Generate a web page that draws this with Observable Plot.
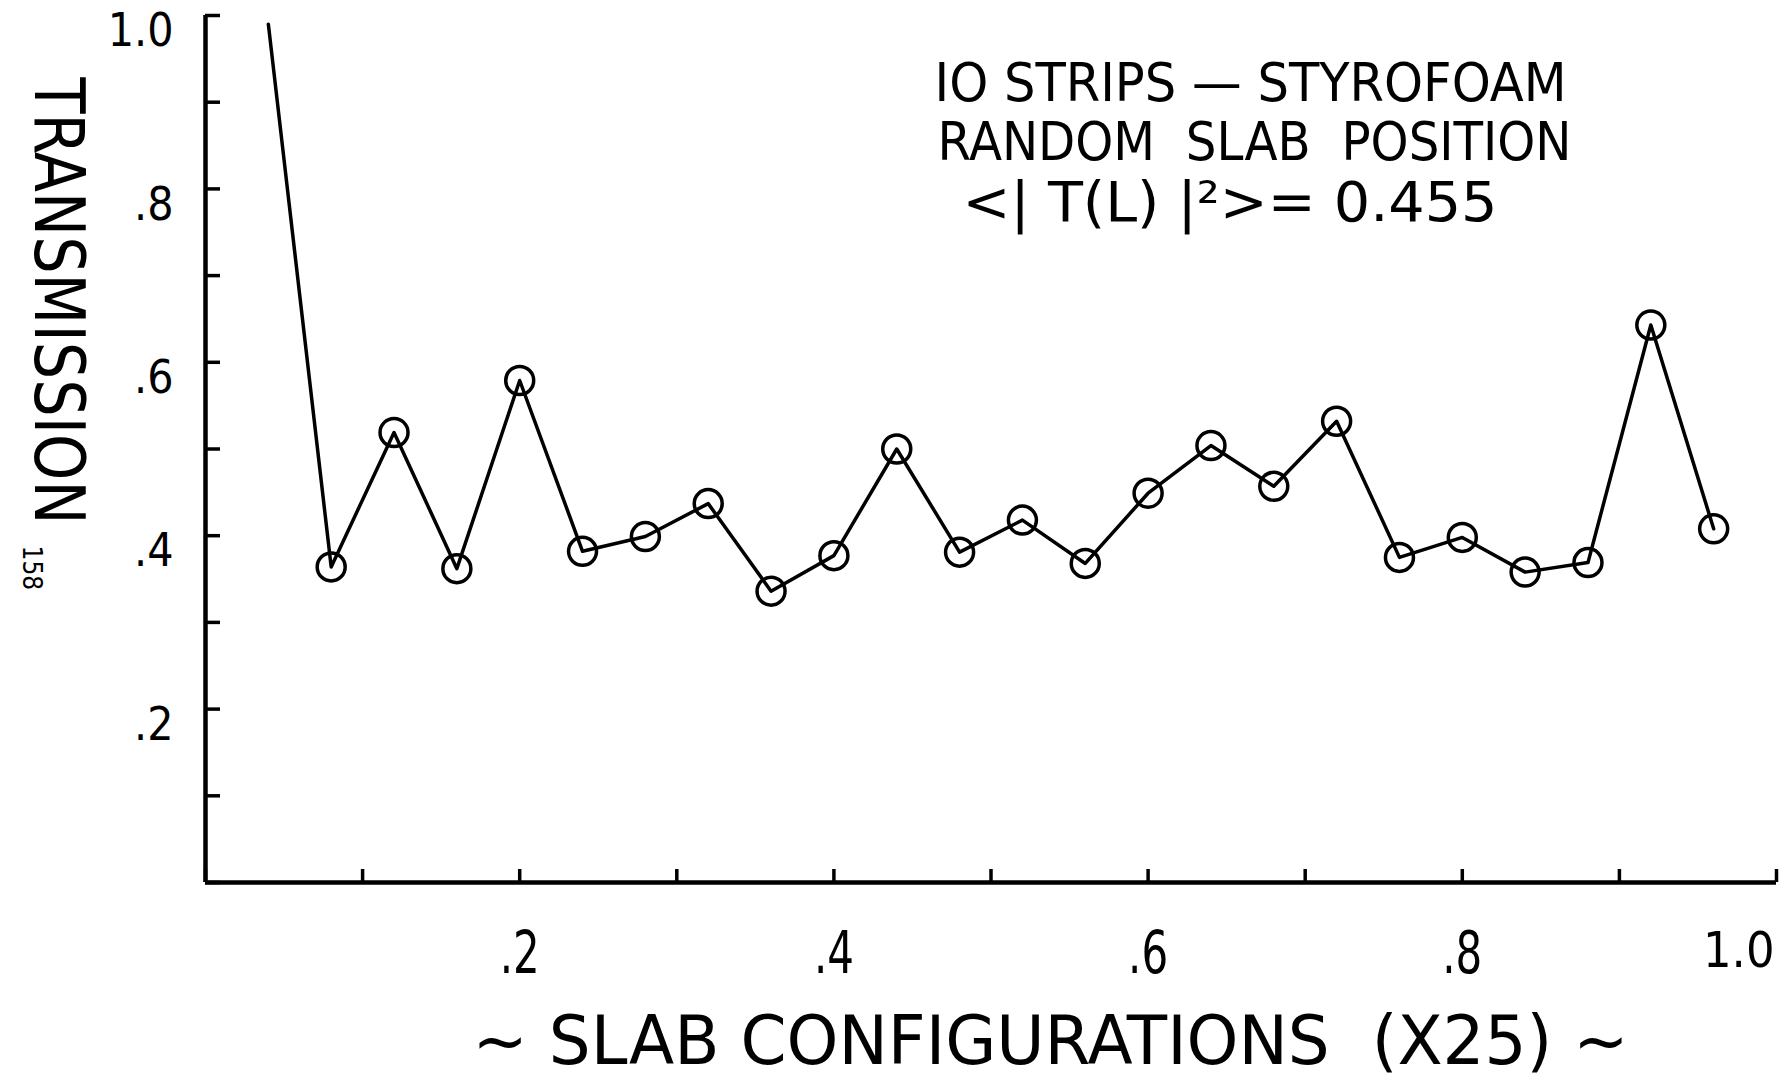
<!DOCTYPE html>
<html>
<head>
<meta charset="utf-8">
<script src="https://cdn.jsdelivr.net/npm/d3@7"></script>
<script src="https://cdn.jsdelivr.net/npm/@observablehq/plot@0.6"></script>
<style>
  html, body { margin: 0; padding: 0; background: #fff; overflow: hidden; }
</style>
</head>
<body>
<div id="chart"></div>
<script>
// ---- data ----
const configX = [0.04, 0.08, 0.12, 0.16, 0.20, 0.24, 0.28, 0.32, 0.36, 0.40, 0.44, 0.48,
                 0.52, 0.56, 0.60, 0.64, 0.68, 0.72, 0.76, 0.80, 0.84, 0.88, 0.92, 0.96];
const transmission = [0.990, 0.364, 0.519, 0.362, 0.579, 0.382, 0.399, 0.437, 0.336, 0.377, 0.500, 0.381,
                      0.418, 0.368, 0.449, 0.504, 0.457, 0.532, 0.375, 0.398, 0.358, 0.369, 0.643, 0.408];
const circled = [false, true, true, true, true, true, true, true, true, true, true, true,
                 true, true, true, true, true, true, true, true, true, true, true, true];

const xTickValues = [0, 0.1, 0.2, 0.3, 0.4, 0.5, 0.6, 0.7, 0.8, 0.9, 1.0];
const yTickValues = [0, 0.1, 0.2, 0.3, 0.4, 0.5, 0.6, 0.7, 0.8, 0.9, 1.0];
const xLabelValues = [0.2, 0.4, 0.6, 0.8, 1.0];
const xTickLabels = [".2", ".4", ".6", ".8", "1.0"];
const yLabelValues = [0.2, 0.4, 0.6, 0.8, 1.0];
const yTickLabels = [".2", ".4", ".6", ".8", "1.0"];

const annotationLines = ["IO STRIPS \u2014 STYROFOAM", "RANDOM  SLAB  POSITION", "<| T(L) |\u00B2>= 0.455"];
const xTitle = "~ SLAB CONFIGURATIONS  (X25) ~";
const yTitle = "TRANSMISSION";
const pageNote = "158";

// ---- build ----
const points = configX.map((x, i) => ({x, y: transmission[i], circled: circled[i]}));
const font = "'Liberation Sans Narrow', 'DejaVu Sans Condensed', 'Liberation Sans', 'DejaVu Sans', sans-serif";

const plot = Plot.plot({
  width: 1785,
  height: 1081,
  marginLeft: 205,
  marginRight: 9,
  marginTop: 15,
  marginBottom: 199,
  x: {domain: [0, 1]},
  y: {domain: [0, 1]},
  style: {fontFamily: font, background: "#fff", color: "#000"},
  marks: [
    // inward ticks
    Plot.axisX({ticks: xTickValues, tickSize: -13, tickFormat: () => "", label: null, strokeWidth: 3.5}),
    Plot.axisY({ticks: yTickValues, tickSize: -15, tickFormat: () => "", label: null, strokeWidth: 3.5}),
    // tick labels
    Plot.axisX({ticks: xLabelValues, tickSize: 0, tickPadding: 49, label: null, fontSize: 58,
                tickFormat: d => xTickLabels[xLabelValues.indexOf(d)]}),
    Plot.axisY({ticks: yLabelValues, tickSize: 0, tickPadding: 32, label: null, fontSize: 46, dy: 16,
                tickFormat: d => yTickLabels[yLabelValues.indexOf(d)]}),
    // frame lines
    Plot.ruleX([0], {stroke: "#000", strokeWidth: 4.5}),
    Plot.ruleY([0], {stroke: "#000", strokeWidth: 4.5}),
    // data
    Plot.line(points, {x: "x", y: "y", stroke: "#000", strokeWidth: 3.5}),
    Plot.dot(points, {filter: d => d.circled, x: "x", y: "y", r: 14, stroke: "#000", strokeWidth: 3.5, fill: "none"}),
    // annotation
    Plot.text([annotationLines[0]], {text: d => d, frameAnchor: "top-left", textAnchor: "start", lineAnchor: "bottom", dx: 729, dy: 85, fontSize: 54, fill: "#000"}),
    Plot.text([annotationLines[1]], {text: d => d, frameAnchor: "top-left", textAnchor: "start", lineAnchor: "bottom", dx: 732, dy: 144, fontSize: 54, fill: "#000"}),
    Plot.text([annotationLines[2]], {text: d => d, frameAnchor: "top-left", textAnchor: "start", lineAnchor: "bottom", dx: 757, dy: 205, fontSize: 56, fill: "#000"}),
    // axis titles
    Plot.text([xTitle], {text: d => d, frameAnchor: "bottom-left", textAnchor: "start", lineAnchor: "bottom", dx: 267, dy: 181, fontSize: 68, fill: "#000"}),
    Plot.text([yTitle], {text: d => d, frameAnchor: "top-left", textAnchor: "start", lineAnchor: "bottom", rotate: 90, dx: -171, dy: 62, fontSize: 70, fill: "#000"}),
    Plot.text([pageNote], {text: d => d, frameAnchor: "top-left", textAnchor: "start", lineAnchor: "bottom", rotate: 90, dx: -183, dy: 530, fontSize: 26, fill: "#000"})
  ]
});

// fit the hand-lettered text widths
const widths = new Map([
  [annotationLines[0], 632],
  [annotationLines[1], 634],
  [annotationLines[2], 535],
  [xTitle, 1156],
  [yTitle, 447]
]);
d3.select(plot).selectAll("text").each(function() {
  const w = widths.get(this.textContent);
  if (w) {
    this.setAttribute("textLength", w);
    this.setAttribute("lengthAdjust", "spacingAndGlyphs");
  }
});
// narrow lettering of the x tick labels; the last one ends at its tick
d3.select(plot).selectAll('g[aria-label="x-axis tick label"] text').each(function() {
  const last = this.textContent === xTickLabels[xTickLabels.length - 1];
  if (last) {
    this.setAttribute("font-size", 50);
    this.setAttribute("text-anchor", "end");
    this.setAttribute("dx", -2);
  } else {
    this.setAttribute("textLength", 40);
    this.setAttribute("lengthAdjust", "spacingAndGlyphs");
  }
});

document.getElementById("chart").appendChild(plot);
</script>
</body>
</html>
